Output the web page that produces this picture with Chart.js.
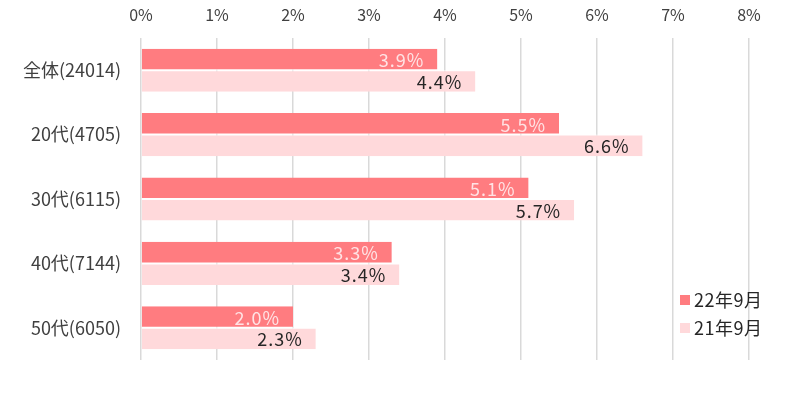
<!DOCTYPE html>
<html>
<head>
<meta charset="utf-8">
<script src="https://cdn.jsdelivr.net/npm/chart.js@4"></script>
<style>
  html, body { margin: 0; padding: 0; background: #fff; }
  #wrap { width: 786px; height: 398px; position: relative; }
</style>
</head>
<body>
<div id="wrap"><canvas id="chart"></canvas></div>
<script>
// data
const categories = ['全体(24014)', '20代(4705)', '30代(6115)', '40代(7144)', '50代(6050)'];
const seriesNames = ['22年9月', '21年9月'];
const sep22 = [3.9, 5.5, 5.1, 3.3, 2.0];
const sep21 = [4.4, 6.6, 5.7, 3.4, 2.3];
const xTicks = [0, 1, 2, 3, 4, 5, 6, 7, 8];

const FONT = "'Noto Sans CJK JP', 'Noto Sans', sans-serif";
const colors = ['#ff7c80', '#ffd9db'];
const labelColors = ['#ffe3e4', '#262626'];

// value labels at the inner end of each bar
const barLabels = {
  id: 'barLabels',
  afterDatasetsDraw(chart) {
    const ctx = chart.ctx;
    ctx.save();
    ctx.font = '18px ' + FONT;
    ctx.letterSpacing = '1px';
    ctx.textAlign = 'right';
    ctx.textBaseline = 'middle';
    chart.data.datasets.forEach(function(ds, i) {
      const meta = chart.getDatasetMeta(i);
      meta.data.forEach(function(bar, j) {
        ctx.fillStyle = labelColors[i];
        ctx.fillText(ds.data[j].toFixed(1) + '%', bar.x - 13, bar.y + 1);
      });
    });
    ctx.restore();
  }
};

// legend drawn inside the plot, bottom right
const cornerLegend = {
  id: 'cornerLegend',
  afterDraw(chart) {
    const ctx = chart.ctx;
    const a = chart.chartArea;
    ctx.save();
    ctx.font = '18px ' + FONT;
    ctx.letterSpacing = '0.5px';
    ctx.textBaseline = 'middle';
    ctx.textAlign = 'left';
    seriesNames.forEach(function(name, i) {
      const y = a.bottom - 60 + i * 28;
      ctx.fillStyle = colors[i];
      ctx.fillRect(a.right - 69, y - 5, 10, 10);
      ctx.fillStyle = '#262626';
      ctx.fillText(name, a.right - 55, y);
    });
    ctx.restore();
  }
};

new Chart(document.getElementById('chart'), {
  type: 'bar',
  data: {
    labels: categories,
    datasets: [
      { label: seriesNames[0], data: sep22, backgroundColor: colors[0], borderColor: '#ffffff', borderWidth: { bottom: 1 }, borderSkipped: false },
      { label: seriesNames[1], data: sep21, backgroundColor: colors[1], borderColor: '#ffffff', borderWidth: { top: 1 }, borderSkipped: false }
    ]
  },
  options: {
    indexAxis: 'y',
    responsive: true,
    maintainAspectRatio: false,
    animation: false,
    layout: { padding: { left: 0, right: 37, top: 0, bottom: 38 } },
    datasets: { bar: { categoryPercentage: 0.67, barPercentage: 1.0 } },
    plugins: { legend: { display: false }, tooltip: { enabled: false } },
    scales: {
      x: {
        position: 'top',
        min: xTicks[0],
        max: xTicks[xTicks.length - 1],
        afterBuildTicks: function(scale) { scale.ticks = xTicks.map(v => ({ value: v })); },
        afterFit: function(scale) { scale.height = 38; },
        ticks: { color: '#404040', font: { family: FONT, size: 16 }, padding: 13, callback: v => v + '%' },
        grid: { color: '#d9d9d9', lineWidth: 1.5, drawTicks: false },
        border: { display: false }
      },
      y: {
        afterFit: function(scale) { scale.width = 141; },
        ticks: { color: '#404040', font: { family: FONT, size: 18 }, padding: 12 },
        grid: { display: false },
        border: { display: false }
      }
    }
  },
  plugins: [barLabels, cornerLegend]
});
</script>
</body>
</html>
